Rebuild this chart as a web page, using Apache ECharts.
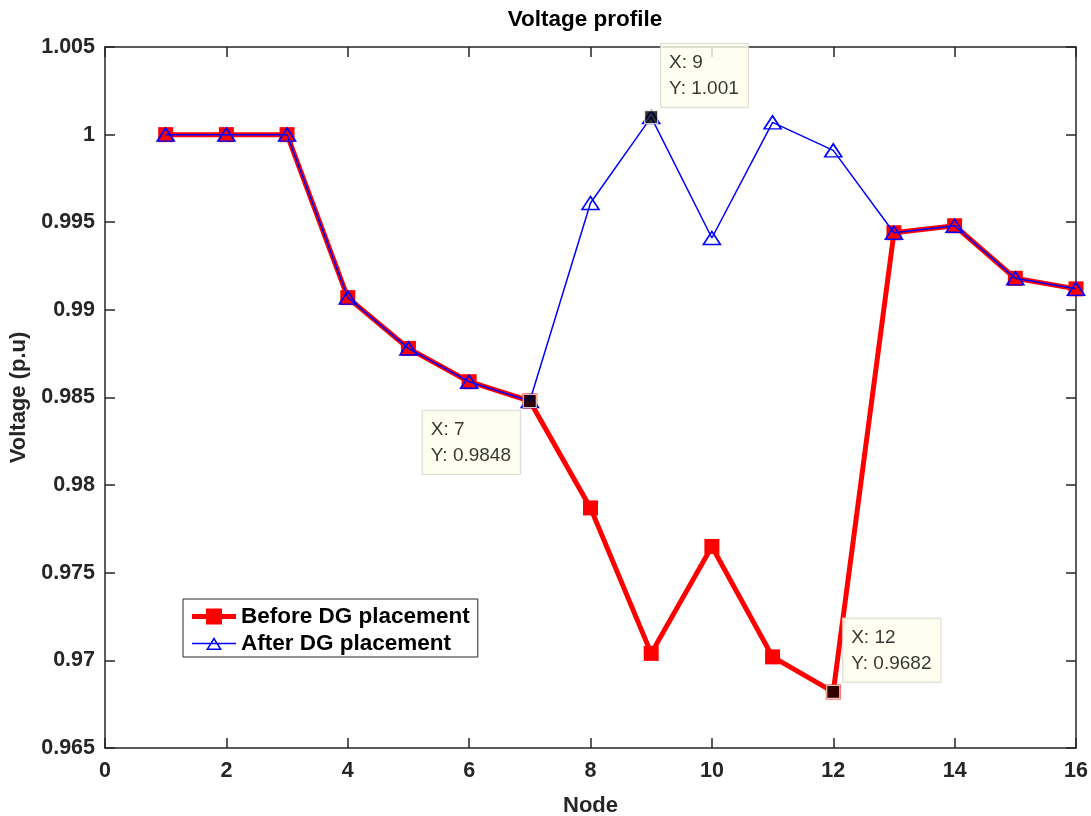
<!DOCTYPE html>
<html>
<head>
<meta charset="utf-8">
<title>Voltage profile</title>
<script src="https://cdn.jsdelivr.net/npm/echarts@6/dist/echarts.min.js"></script>
<style>
  html, body { margin: 0; padding: 0; background: #ffffff; }
  #chart { width: 1091px; height: 816px; }
</style>
</head>
<body>
<div id="chart"></div>
<script>
// Node numbers along the feeder
const nodes = [1, 2, 3, 4, 5, 6, 7, 8, 9, 10, 11, 12, 13, 14, 15, 16];

// Bus voltages (p.u) before and after DG placement
const voltageBefore = [1.0000, 1.0000, 1.0000, 0.9907, 0.9878, 0.9859, 0.9848, 0.9787,
                       0.9704, 0.9765, 0.9702, 0.9682, 0.9944, 0.9948, 0.9918, 0.9912];
const voltageAfter  = [1.0000, 1.0000, 1.0000, 0.9907, 0.9878, 0.9859, 0.9848, 0.9961,
                       1.0010, 0.9941, 1.0007, 0.9991, 0.9944, 0.9948, 0.9918, 0.9912];

// Axis ticks
const xTicks = { min: 0, max: 16, step: 2 };
const yTicks = { min: 0.965, max: 1.005, step: 0.005 };

// Data tips: node and which curve they sit on
const tipNodes  = [7, 9, 12];
const tipSeries = ['before', 'after', 'before'];

const INK = '#262626';
const FONT = '"Liberation Sans", Arial, Helvetica, sans-serif';

const pairs = (ys) => nodes.map((n, i) => [n, ys[i]]);
const tipData = tipNodes.map((n, k) => {
  const src = tipSeries[k] === 'before' ? voltageBefore : voltageAfter;
  return [n, src[nodes.indexOf(n)]];
});

// label placement for each data tip box, relative to the marker's corner
const tipLabelPlacement = [
  { position: [-100, 17], align: 'left', verticalAlign: 'top' },
  { position: [17, -3], align: 'left', verticalAlign: 'bottom' },
  { position: [17, -3], align: 'left', verticalAlign: 'bottom' }
];

// legend glyphs: thick line with filled square, thin line with hollow triangle
const iconBefore = 'path://M0,5.5 H14 V0 H30 V5.5 H44 V10.5 H30 V16 H14 V10.5 H0 Z';
const iconAfter = 'path://M0,7.3 H44 V8.7 H0 Z M22,1.5 L30,14.5 L14,14.5 Z M22,4.4 L16.7,13 L27.3,13 Z';

const chart = echarts.init(document.getElementById('chart'), null, { renderer: 'canvas' });

const yFmt = (v) => String(parseFloat(v.toFixed(3)));

const boxAxisCommon = {
  axisLine: { show: true, onZero: false, lineStyle: { color: INK, width: 1.5 } },
  axisTick: { show: true, inside: true, length: 10, lineStyle: { color: INK, width: 1.5 } },
  splitLine: { show: false }
};

chart.setOption({
  animation: false,
  backgroundColor: '#ffffff',
  textStyle: { fontFamily: FONT },
  title: {
    text: 'Voltage profile',
    left: 585,
    top: 8,
    textAlign: 'center',
    padding: 0,
    textStyle: { fontFamily: FONT, fontSize: 22.5, fontWeight: 'bold', color: '#000000' }
  },
  grid: { left: 105, right: 15, top: 47, bottom: 68, containLabel: false, outerBoundsMode: 'none' },
  legend: {
    orient: 'vertical',
    left: 183,
    top: 599,
    padding: [6, 8, 2, 9],
    itemWidth: 44,
    itemHeight: 16,
    itemGap: 4,
    borderColor: INK,
    borderWidth: 1,
    backgroundColor: '#ffffff',
    textStyle: { fontFamily: FONT, fontSize: 22.5, fontWeight: 'bold', color: '#000000', lineHeight: 21 },
    data: [
      { name: 'Before DG placement', icon: iconBefore, itemStyle: { color: '#ff0000', borderWidth: 0 } },
      { name: 'After DG placement', icon: iconAfter, itemStyle: { color: '#0000ff', borderWidth: 0 } }
    ]
  },
  xAxis: [
    Object.assign({
      type: 'value',
      position: 'bottom',
      min: xTicks.min,
      max: xTicks.max,
      interval: xTicks.step,
      name: 'Node',
      nameLocation: 'middle',
      nameGap: 47,
      nameTextStyle: { fontFamily: FONT, fontSize: 22, fontWeight: 'bold', color: INK },
      axisLabel: { show: true, margin: 12, fontFamily: FONT, fontSize: 21.5, fontWeight: 'bold', color: INK }
    }, boxAxisCommon),
    Object.assign({
      type: 'value',
      position: 'top',
      min: xTicks.min,
      max: xTicks.max,
      interval: xTicks.step,
      axisLabel: { show: false }
    }, boxAxisCommon)
  ],
  yAxis: [
    Object.assign({
      type: 'value',
      position: 'left',
      min: yTicks.min,
      max: yTicks.max,
      interval: yTicks.step,
      name: 'Voltage (p.u)',
      nameLocation: 'middle',
      nameGap: 71,
      nameTextStyle: { fontFamily: FONT, fontSize: 22, fontWeight: 'bold', color: INK },
      axisLabel: { show: true, margin: 10, fontFamily: FONT, fontSize: 21.5, fontWeight: 'bold', color: INK, formatter: yFmt }
    }, boxAxisCommon),
    Object.assign({
      type: 'value',
      position: 'right',
      min: yTicks.min,
      max: yTicks.max,
      interval: yTicks.step,
      axisLabel: { show: false }
    }, boxAxisCommon)
  ],
  series: [
    {
      name: 'Before DG placement',
      type: 'line',
      xAxisIndex: 0,
      yAxisIndex: 0,
      data: pairs(voltageBefore),
      symbol: 'rect',
      symbolSize: 15,
      showAllSymbol: true,
      lineStyle: { color: '#ff0000', width: 5 },
      itemStyle: { color: '#ff0000', borderColor: '#ff0000', borderWidth: 0 },
      emphasis: { disabled: true },
      z: 2
    },
    {
      name: 'After DG placement',
      type: 'line',
      xAxisIndex: 0,
      yAxisIndex: 0,
      data: pairs(voltageAfter),
      symbol: 'triangle',
      symbolSize: [17, 13],
      showAllSymbol: true,
      lineStyle: { color: '#0000ff', width: 1.5 },
      itemStyle: { color: 'rgba(255,255,255,0)', borderColor: '#0000ff', borderWidth: 1.6 },
      emphasis: { disabled: true },
      z: 3
    },
    {
      name: 'tips',
      type: 'scatter',
      xAxisIndex: 0,
      yAxisIndex: 0,
      symbol: 'rect',
      symbolSize: 13,
      itemStyle: { color: '#000000', borderColor: '#fdfbe0', borderWidth: 1.2 },
      emphasis: { disabled: true },
      z: 10,
      data: tipData.map((p, k) => ({
        value: p,
        label: Object.assign({
          show: true,
          formatter: () => 'X: ' + p[0] + '\nY: ' + Number(p[1].toPrecision(4)),
          fontFamily: FONT,
          fontSize: 19,
          lineHeight: 26,
          color: '#000000',
          textBorderWidth: 0,
          backgroundColor: '#ffffee',
          borderColor: '#d9d9d0',
          borderWidth: 1.2,
          padding: [6, 9, 5, 8]
        }, tipLabelPlacement[k])
      }))
    }
  ]
});
</script>
</body>
</html>
